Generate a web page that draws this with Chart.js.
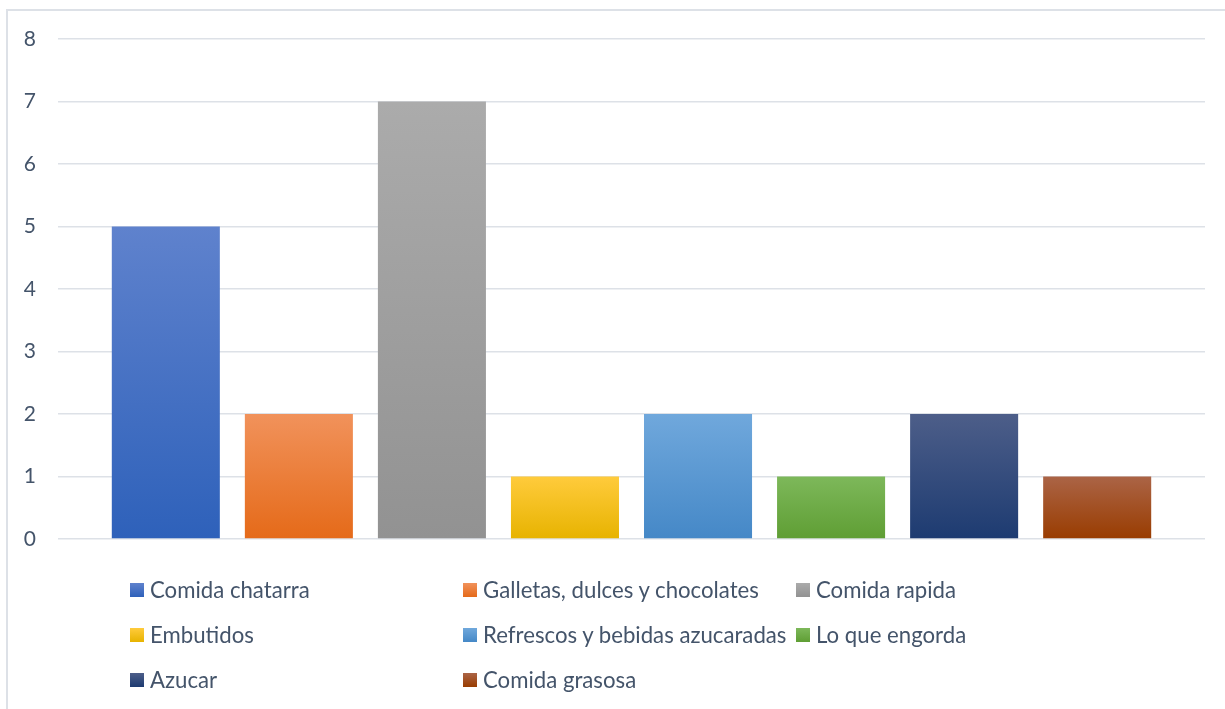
<!DOCTYPE html>
<html>
<head>
<meta charset="utf-8">
<script src="https://cdn.jsdelivr.net/npm/chart.js@4/dist/chart.umd.min.js"></script>
<style>
  html, body { margin: 0; padding: 0; background: #ffffff; }
  #wrap { position: relative; width: 1225px; height: 709px; overflow: hidden; }
  #frame { position: absolute; left: 6px; top: 9px; width: 1240px; height: 720px;
           border: 2px solid #dde1e7; box-sizing: border-box; }
  canvas { position: absolute; left: 0; top: 0; }
  #legend { position: absolute; left: 130px; top: 567px; display: grid;
            grid-template-columns: 333px 333px 333px; grid-auto-rows: 45px;
            font-family: Lato, "Noto Sans", sans-serif; font-size: 22.2px; color: #44546a; }
  #legend .item { display: flex; align-items: center; white-space: nowrap; }
  #legend .sw { width: 14px; height: 14px; margin-right: 6px; flex: none; }
</style>
</head>
<body>
<div id="wrap">
  <div id="frame"></div>
  <canvas id="c" width="1225" height="709"></canvas>
  <div id="legend"></div>
</div>
<script>
// Foods counted, one bar each
const categories = [
  'Comida chatarra',
  'Galletas, dulces y chocolates',
  'Comida rapida',
  'Embutidos',
  'Refrescos y bebidas azucaradas',
  'Lo que engorda',
  'Azucar',
  'Comida grasosa'
];
const values = [5, 2, 7, 1, 2, 1, 2, 1];
const yTickMax = 8;

// Top (light) and bottom (dark) shade of each bar's gradient
const topColors    = ['#5f82cd', '#f1925b', '#ababab', '#ffcb3c', '#70a8dc', '#7db85a', '#4d5e89', '#ab6446'];
const bottomColors = ['#2e61ba', '#e56a19', '#929292', '#e7b300', '#4588c7', '#5f9e34', '#1d3b71', '#993c00'];

function barFill(ctx, i) {
  const chart = ctx.chart;
  if (!chart.chartArea) return bottomColors[i];
  const y = chart.scales.y;
  const yTop = y.getPixelForValue(values[i]);
  const yBase = y.getPixelForValue(0);
  const g = chart.ctx.createLinearGradient(0, yTop, 0, yBase);
  g.addColorStop(0, topColors[i]);
  g.addColorStop(1, bottomColors[i]);
  return g;
}

const datasets = categories.map((name, i) => ({
  label: name,
  data: [values[i]],
  backgroundColor: ctx => barFill(ctx, i),
  borderWidth: 0,
  categoryPercentage: 0.928,
  barPercentage: 0.812
}));

new Chart(document.getElementById('c'), {
  type: 'bar',
  data: { labels: [''], datasets },
  options: {
    responsive: false,
    animation: false,
    layout: { padding: { left: 0, right: 20, top: 39, bottom: 170 } },
    plugins: { legend: { display: false }, tooltip: { enabled: false } },
    scales: {
      x: { display: false },
      y: {
        min: 0, max: yTickMax,
        ticks: { stepSize: 1, padding: 22, color: '#44546a',
                 font: { family: 'Lato, "Noto Sans", sans-serif', size: 21 } },
        grid: { color: '#dde1e7', lineWidth: 1.6, drawTicks: false },
        border: { display: false },
        afterFit: s => { s.width = 58; }
      }
    }
  }
});

// Legend laid out in three columns
const legend = document.getElementById('legend');
categories.forEach((name, i) => {
  const item = document.createElement('div');
  item.className = 'item';
  const sw = document.createElement('span');
  sw.className = 'sw';
  sw.style.background = `linear-gradient(${topColors[i]}, ${bottomColors[i]})`;
  const t = document.createElement('span');
  t.textContent = name;
  item.appendChild(sw);
  item.appendChild(t);
  legend.appendChild(item);
});
</script>
</body>
</html>
